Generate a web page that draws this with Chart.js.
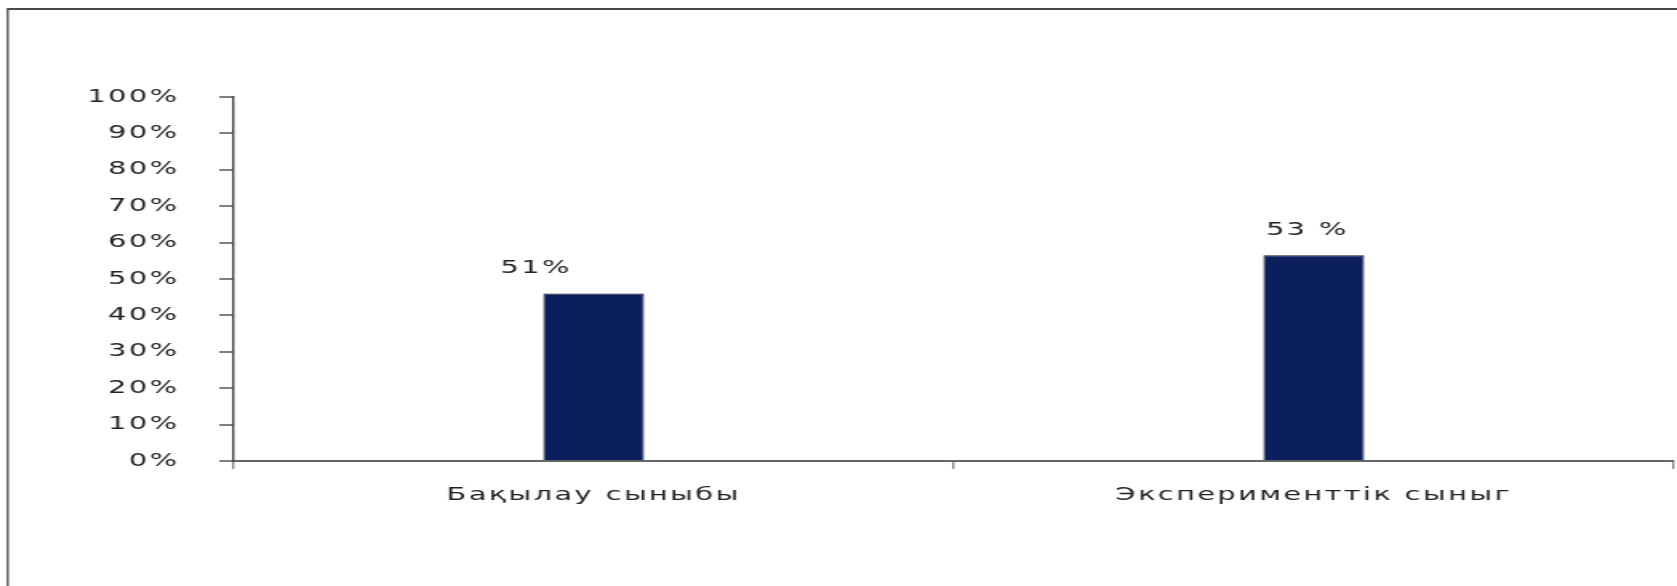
<!DOCTYPE html>
<html>
<head>
<meta charset="utf-8">
<script src="https://cdn.jsdelivr.net/npm/chart.js@4.4.1/dist/chart.umd.min.js"></script>
<style>
  html, body { margin: 0; padding: 0; background: #fff; }
  #chart { display: block; }
</style>
</head>
<body>
<canvas id="chart" style="width:1677px;height:586px"></canvas>
<script>
// data
const categories = ['Бақылау сыныбы', 'Эксперименттік сыныг'];
const barValues = [46, 56.5];           // bar heights as drawn
const valueLabels = ['51%', '53 %'];    // text printed above the bars
const yTickLabels = ['0%', '10%', '20%', '30%', '40%', '50%', '60%', '70%', '80%', '90%', '100%'];

// the original picture is stretched sideways, so draw narrow and widen with css
const stretch = 1.6;
const canvas = document.getElementById('chart');
canvas.width = Math.round(1677 / stretch);
canvas.height = 586;

const labelShift = [-36, -4];
const font = { family: 'DejaVu Sans', size: 18 };
const spacing = '1.5px';

const frame = {
  id: 'frame',
  beforeLayout(chart) {
    chart.ctx.letterSpacing = spacing;
  },
  beforeDraw(chart) {
    const ctx = chart.ctx;
    ctx.letterSpacing = spacing;
    ctx.save();
    ctx.strokeStyle = '#4a4a4a';
    ctx.lineWidth = 1.3;
    ctx.beginPath();
    ctx.moveTo(4.8, chart.height);
    ctx.lineTo(4.8, 9);
    ctx.stroke();
    ctx.lineWidth = 2;
    ctx.beginPath();
    ctx.moveTo(4.2, 9);
    ctx.lineTo(chart.width, 9);
    ctx.stroke();
    ctx.restore();
  }
};

const valueText = {
  id: 'valueText',
  afterDatasetsDraw(chart) {
    const ctx = chart.ctx;
    ctx.save();
    ctx.font = font.size + 'px ' + font.family;
    ctx.fillStyle = '#222';
    ctx.textAlign = 'center';
    ctx.textBaseline = 'middle';
    chart.getDatasetMeta(0).data.forEach((bar, i) => {
      ctx.fillText(valueLabels[i], bar.x + labelShift[i], bar.y - 25);
    });
    ctx.restore();
  }
};

new Chart(canvas.getContext('2d'), {
  type: 'bar',
  data: {
    labels: categories,
    datasets: [{
      data: barValues,
      backgroundColor: '#0b1f5c',
      borderColor: '#0a0f2a',
      borderWidth: 1,
      barPercentage: 0.14,
      categoryPercentage: 1
    }]
  },
  options: {
    responsive: false,
    devicePixelRatio: 1,
    animation: false,
    layout: { padding: { top: 97, right: 2, left: 0, bottom: 0 } },
    plugins: {
      legend: { display: false },
      tooltip: { enabled: false }
    },
    scales: {
      x: {
        offset: true,
        grid: { drawOnChartArea: false, drawTicks: true, tickLength: 8, color: '#808080', lineWidth: 1.3 },
        border: { color: '#666', width: 2 },
        ticks: { font: font, color: '#222', padding: 16, maxRotation: 0, autoSkip: false },
        afterFit(scale) { scale.height = 125; }
      },
      y: {
        min: 0,
        max: 100,
        grid: { drawOnChartArea: false, drawTicks: true, tickLength: 9, color: '#808080', lineWidth: 2 },
        border: { color: '#444', width: 1.4 },
        ticks: {
          stepSize: 10,
          font: font,
          color: '#222',
          padding: 25,
          callback: (v, i) => yTickLabels[i]
        },
        afterFit(scale) { scale.width = 146; }
      }
    }
  },
  plugins: [frame, valueText]
});
</script>
</body>
</html>
